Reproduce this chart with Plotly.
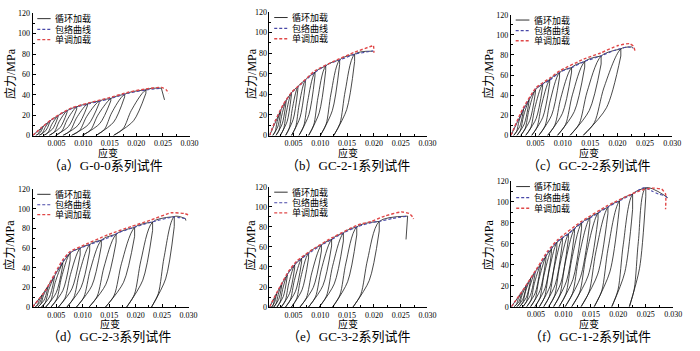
import plotly.graph_objects as go

# ---------------- DATA (strain, stress in MPa) ----------------
# Panel (a) G-0-0
A_P = [0.0025, 0.0038, 0.0053, 0.0070, 0.0088, 0.0108, 0.0130, 0.0152, 0.0178, 0.0218, 0.0247]
A_S = [9, 14.5, 19.5, 24.5, 28.2, 31, 33.8, 36.3, 40.5, 44.8, 46.5]
A_D = [9, 14, 18.5, 23, 26, 29, 31.5, 34, 38, 41.5]
A_R = [0.0011, 0.0017, 0.0026, 0.0036, 0.0048, 0.0062, 0.0078, 0.0098, 0.0124, 0.0157]
A_UM = [0.00197, 0.0030, 0.00427, 0.00571, 0.00728, 0.00905, 0.01102, 0.01315, 0.01575, 0.01948]
A_RT = [0.00152, 0.00233, 0.00341, 0.00462, 0.0060, 0.00758, 0.00936, 0.01142, 0.01402, 0.01753]
A_RM = [0.00187, 0.00286, 0.00409, 0.00547, 0.0070, 0.00873, 0.01066, 0.01277, 0.01537, 0.01906]
A_END = [0.0253, 35]
A_ENV_X = [0.0005, 0.0023, 0.0040, 0.0061, 0.0079, 0.0110, 0.0148, 0.0185, 0.0216, 0.0247]
A_ENV_Y = [0, 8, 15, 22, 26.5, 31, 35.8, 41.5, 44.5, 46.5]
A_MON_X = [0.0005, 0.0023, 0.0040, 0.0061, 0.0079, 0.0110, 0.0148, 0.0185, 0.0216, 0.0247, 0.0256, 0.0261]
A_MON_Y = [0, 8.3, 15.5, 22.5, 27.2, 32, 37, 42.5, 45.6, 47.3, 45, 41.5]

# Panel (b) GC-2-1
B_P = [0.0026, 0.0036, 0.0046, 0.0058, 0.0072, 0.0090, 0.0110, 0.0136, 0.0164, 0.0197]
B_S = [24.5, 34, 41.5, 47.5, 54, 61.5, 67.5, 73.5, 79, 82]
B_D = [23.5, 32.5, 39.5, 45, 50.5, 58, 63, 69, 72]
B_R = [0.0011, 0.0017, 0.0025, 0.0035, 0.0046, 0.0060, 0.0078, 0.0100, 0.0125]
B_UM = [0.00203, 0.00288, 0.0038, 0.00493, 0.00621, 0.00786, 0.00978, 0.01223, 0.01492]
B_RT = [0.00155, 0.00227, 0.00313, 0.00419, 0.00538, 0.0069, 0.00876, 0.01108, 0.01367]
B_RM = [0.00193, 0.00275, 0.00366, 0.00477, 0.00603, 0.00765, 0.00956, 0.01198, 0.01465]
B_END = [0.0198, 81.5]
B_ENV_X = [0.0005, 0.0016, 0.0031, 0.0047, 0.0062, 0.0090, 0.0115, 0.0139, 0.0164, 0.0195, 0.0199]
B_ENV_Y = [0, 14.2, 30, 42, 49, 61.6, 69.5, 74, 79, 82, 82.5]
B_MON_X = [0.0005, 0.0016, 0.0031, 0.0047, 0.0062, 0.0090, 0.0127, 0.0164, 0.0195, 0.0199, 0.0200]
B_MON_Y = [0, 14.5, 30.5, 42.5, 49.5, 63, 72.6, 81, 86.8, 87.5, 80.5]

# Panel (c) GC-2-2
C_P = [0.0028, 0.0038, 0.0050, 0.0063, 0.0076, 0.0094, 0.0116, 0.0140, 0.0170, 0.0206, 0.0226]
C_S = [26, 35, 45.5, 51, 55.5, 62.5, 67.5, 73.5, 79, 86, 88]
C_D = [25, 33, 43, 48, 52, 58, 63, 68, 71, 79]
C_R = [0.0010, 0.0016, 0.0023, 0.0032, 0.0043, 0.0056, 0.0072, 0.0090, 0.0113, 0.0137]
C_UM = [0.00212, 0.00296, 0.00397, 0.00512, 0.00635, 0.00796, 0.00993, 0.0121, 0.01483, 0.01798]
C_RT = [0.00154, 0.00226, 0.00311, 0.00413, 0.00529, 0.00674, 0.00852, 0.0105, 0.01301, 0.01577]
C_RM = [0.00199, 0.00281, 0.00379, 0.00491, 0.00612, 0.00769, 0.00962, 0.01175, 0.01444, 0.0175]
C_END = [0.0228, 87]
C_ENV_X = [0.0005, 0.0026, 0.0051, 0.0076, 0.0095, 0.0117, 0.0138, 0.0169, 0.0194, 0.0219, 0.0229]
C_ENV_Y = [0, 24, 46.8, 55, 63, 67.7, 73.2, 79, 84.5, 88, 87]
C_MON_X = [0.0005, 0.0026, 0.0051, 0.0076, 0.0095, 0.0138, 0.0169, 0.0201, 0.0222, 0.0229, 0.0232]
C_MON_Y = [0, 25.8, 47.4, 57, 64.5, 75.8, 82, 89.4, 91.3, 88.7, 84]

# Panel (d) GC-2-3
D_P = [0.0024, 0.0034, 0.0046, 0.0062, 0.0076, 0.0095, 0.0113, 0.0135, 0.0163, 0.0198, 0.0232, 0.0273, 0.0294]
D_S = [13, 21, 31, 45, 55, 60, 63.5, 68, 74, 81, 86.5, 92, 90]
D_D = [13, 20, 29, 42, 48, 53, 57, 62, 66, 72, 78, 82]
D_R = [0.0010, 0.0015, 0.0022, 0.0030, 0.0040, 0.0054, 0.0070, 0.0088, 0.0112, 0.0143, 0.0183, 0.0230]
D_UM = [0.00187, 0.00268, 0.00369, 0.00498, 0.00623, 0.00794, 0.00967, 0.01171, 0.01436, 0.01771, 0.02134, 0.02567]
D_RT = [0.00142, 0.00207, 0.00292, 0.00396, 0.00508, 0.00663, 0.00829, 0.01021, 0.01273, 0.01595, 0.01977, 0.02429]
D_RM = [0.00177, 0.00255, 0.00352, 0.00476, 0.00598, 0.00766, 0.00937, 0.01139, 0.01401, 0.01733, 0.021, 0.02537]
D_END = [0.0295, 88]
D_ENV_X = [0.0005, 0.0029, 0.0061, 0.0076, 0.0098, 0.0123, 0.0148, 0.0167, 0.0192, 0.0229, 0.0270, 0.0295]
D_ENV_Y = [0, 15.9, 45.6, 55.5, 60.5, 65.5, 70.4, 75.4, 80.3, 86.3, 91.5, 90]
D_MON_X = [0.0005, 0.0029, 0.0061, 0.0076, 0.0098, 0.0148, 0.0192, 0.0229, 0.0267, 0.0292, 0.0300]
D_MON_Y = [0, 16.5, 47.3, 56.5, 62, 73.7, 82, 88.6, 95.9, 95.2, 93.8]

# Panel (e) GC-3-2
E_P = [0.0018, 0.0028, 0.0038, 0.0052, 0.0065, 0.0078, 0.0102, 0.0121, 0.0143, 0.0168, 0.0210, 0.0263]
E_S = [13, 23, 32, 42, 48.5, 54, 62, 67.5, 74, 80, 85.5, 90.8]
E_D = [13, 22, 30, 39, 45, 49, 56, 61, 66, 72, 76]
E_R = [0.0009, 0.0013, 0.0019, 0.0027, 0.0035, 0.0046, 0.0062, 0.0078, 0.0098, 0.0123, 0.0161]
E_UM = [0.00146, 0.00223, 0.00308, 0.00425, 0.00536, 0.00658, 0.00868, 0.01047, 0.01259, 0.01509, 0.01914]
E_RT = [0.00117, 0.00175, 0.00247, 0.00345, 0.0044, 0.00556, 0.0074, 0.00909, 0.01115, 0.01365, 0.01757]
E_RM = [0.0014, 0.00213, 0.00295, 0.00408, 0.00515, 0.00636, 0.0084, 0.01017, 0.01228, 0.01478, 0.0188]
E_END = [0.0260, 67.5]
E_ENV_X = [0.0005, 0.0022, 0.0041, 0.0056, 0.0081, 0.0099, 0.0121, 0.0143, 0.0170, 0.0195, 0.0210, 0.0235, 0.0263]
E_ENV_Y = [0, 17.2, 35, 44.8, 54.5, 61, 67.5, 74, 80.4, 84.3, 85.5, 88.5, 90.8]
E_MON_X = [0.0005, 0.0022, 0.0041, 0.0056, 0.0081, 0.0121, 0.0170, 0.0195, 0.0220, 0.0251, 0.0266, 0.0272, 0.0274]
E_MON_Y = [0, 17.8, 36, 46, 56, 69, 82, 85.5, 90.8, 95, 93.4, 90.2, 88]

# Panel (f) GC-1-2
F_P = [0.0024, 0.0032, 0.0040, 0.0048, 0.0058, 0.0068, 0.0078, 0.0088, 0.0098, 0.0109, 0.0120, 0.0133,
       0.0148, 0.0163, 0.0181, 0.0202, 0.0226, 0.0250, 0.0285]
F_S = [14, 20, 27, 33, 40, 48, 55, 61.5, 65.5, 69.5, 74.5, 80, 85, 89.5, 95, 101, 107.5, 113.5, 106]
F_D = [13.5, 19, 25.5, 31, 37.5, 45, 51, 57, 61, 65, 70, 75, 80, 84, 89, 95, 93, 105]
F_R = [0.0010, 0.0015, 0.0020, 0.0026, 0.0033, 0.0040, 0.0048, 0.0056, 0.0064, 0.0073, 0.0082, 0.0092,
       0.0103, 0.0115, 0.0132, 0.0156, 0.0188, 0.0220]
F_UM = [0.00187, 0.00255, 0.00324, 0.00396, 0.00485, 0.00574, 0.00666, 0.00758, 0.00851, 0.00953, 0.01056,
        0.01174, 0.01309, 0.01448, 0.01624, 0.01845, 0.02116, 0.02386]
F_RT = [0.00142, 0.00201, 0.0026, 0.00326, 0.00405, 0.00484, 0.0057, 0.00656, 0.00742, 0.00838, 0.00934,
        0.01043, 0.01165, 0.01294, 0.01467, 0.01698, 0.01994, 0.0229]
F_RM = [0.00177, 0.00244, 0.0031, 0.00381, 0.00468, 0.00554, 0.00645, 0.00736, 0.00827, 0.00928, 0.01029,
        0.01146, 0.01278, 0.01414, 0.0159, 0.01813, 0.02089, 0.02365]
F_END = [0.0290, 104]
F_ENV_X = [0.0005, 0.0029, 0.0053, 0.0071, 0.0090, 0.0111, 0.0132, 0.0157, 0.0181, 0.0205, 0.0224, 0.0239,
           0.0248, 0.0260, 0.0273, 0.0285, 0.0291]
F_ENV_Y = [0, 17.7, 36.3, 51.8, 62.6, 70.4, 79.7, 87.4, 95.2, 102, 107, 112, 113.8, 110.7, 107.6, 106, 103]
F_MON_X = [0.0005, 0.0029, 0.0053, 0.0071, 0.0090, 0.0132, 0.0181, 0.0224, 0.0248, 0.0266, 0.0279, 0.0286, 0.0286]
F_MON_Y = [0, 18, 37.8, 53, 64.2, 81.2, 96.7, 107.6, 112.2, 113.2, 112.2, 107.6, 93]

TITLES = ["（a）G-0-0系列试件", "（b）GC-2-1系列试件", "（c）GC-2-2系列试件",
          "（d）GC-2-3系列试件", "（e）GC-3-2系列试件", "（f）GC-1-2系列试件"]
LEGEND_NAMES = ["循环加载", "包络曲线", "单调加载"]
X_TICKS = [0.005, 0.010, 0.015, 0.020, 0.025, 0.030]
X_TICK_TEXT = ["0.005", "0.010", "0.015", "0.020", "0.025", "0.030"]
Y_TICKS = [0, 20, 40, 60, 80, 100, 120]
X_TITLE = "应变"
Y_TITLE = "应力/MPa"
ORIGIN = 0.0005

PANELS = [
    (A_P, A_S, A_D, A_R, A_UM, A_RT, A_RM, A_END, A_ENV_X, A_ENV_Y, A_MON_X, A_MON_Y),
    (B_P, B_S, B_D, B_R, B_UM, B_RT, B_RM, B_END, B_ENV_X, B_ENV_Y, B_MON_X, B_MON_Y),
    (C_P, C_S, C_D, C_R, C_UM, C_RT, C_RM, C_END, C_ENV_X, C_ENV_Y, C_MON_X, C_MON_Y),
    (D_P, D_S, D_D, D_R, D_UM, D_RT, D_RM, D_END, D_ENV_X, D_ENV_Y, D_MON_X, D_MON_Y),
    (E_P, E_S, E_D, E_R, E_UM, E_RT, E_RM, E_END, E_ENV_X, E_ENV_Y, E_MON_X, E_MON_Y),
    (F_P, F_S, F_D, F_R, F_UM, F_RT, F_RM, F_END, F_ENV_X, F_ENV_Y, F_MON_X, F_MON_Y),
]

# ---------------- LAYOUT (pixel boxes of each plot area) ----------------
W, H = 700, 351
BOX = [(33, 192, 9.5, 135), (273, 433, 8.3, 135), (517.5, 681, 11, 135),
       (33, 191, 190, 311), (273, 433, 187.7, 311), (518, 682, 181.7, 310.7)]
YT_X = [10, 254, 495, 10, 254, 495]
XT_X = [109, 352.5, 597, 111.5, 352.5, 597]
TT_X = [107, 352.5, 597, 110.5, 354, 597.5]

BLACK = "#1a1a1a"
BLUE = "#4848a8"
RED = "#e04848"
SERIF = "Liberation Serif, Noto Sans CJK SC, serif"

fig = go.Figure()
layout = dict(width=W, height=H, margin=dict(l=0, r=0, t=0, b=0),
              paper_bgcolor="white", plot_bgcolor="white", showlegend=False)
annotations = []
shapes = []

for k, (P, S, D, R, UM, RT, RM, END, EX, EY, MX, MY) in enumerate(PANELS):
    n = k + 1
    xa = "x" if n == 1 else f"x{n}"
    ya = "y" if n == 1 else f"y{n}"
    x0, x1, top, bot = BOX[k]

    # cyclic loading path: spline branches and straight drops
    sx, sy, lx, ly = [], [], [], []
    lx += [ORIGIN, P[0], None]
    ly += [0, S[0], None]
    for i in range(len(R)):
        lx += [P[i], P[i], None]
        ly += [S[i], D[i], None]
        sx += [P[i], UM[i], R[i], None]
        sy += [D[i], 0.35 * D[i], 0, None]
        sx += [R[i], RT[i], RM[i], P[i], P[i + 1], None]
        sy += [0, 0.15 * S[i], 0.55 * S[i], S[i], S[i + 1], None]
    lx += [P[-1], END[0], None]
    ly += [S[-1], END[1], None]

    fig.add_trace(go.Scatter(x=sx, y=sy, mode="lines", xaxis=xa, yaxis=ya,
                             line=dict(color=BLACK, width=0.8, shape="spline", smoothing=0.8),
                             connectgaps=False, hoverinfo="skip"))
    fig.add_trace(go.Scatter(x=lx, y=ly, mode="lines", xaxis=xa, yaxis=ya,
                             line=dict(color=BLACK, width=0.8), connectgaps=False, hoverinfo="skip"))
    fig.add_trace(go.Scatter(x=EX, y=EY, mode="lines", xaxis=xa, yaxis=ya,
                             line=dict(color=BLUE, width=1.1, dash="3px,2px", shape="spline", smoothing=0.6)))
    fig.add_trace(go.Scatter(x=MX, y=MY, mode="lines", xaxis=xa, yaxis=ya,
                             line=dict(color=RED, width=1.4, dash="3px,2px", shape="spline", smoothing=0.5)))

    common = dict(showline=True, linecolor="black", linewidth=1, mirror=False,
                  ticks="inside", ticklen=3, tickwidth=1, tickcolor="black",
                  showgrid=False, zeroline=False,
                  tickfont=dict(family=SERIF, size=8, color="black"))
    layout["xaxis" if n == 1 else f"xaxis{n}"] = dict(
        domain=[x0 / W, x1 / W], range=[ORIGIN, 0.030], anchor=ya,
        tickvals=X_TICKS, ticktext=X_TICK_TEXT,
        minor=dict(ticks="inside", ticklen=2, dtick=0.0025, tick0=0, tickcolor="black"),
        **common)
    layout["yaxis" if n == 1 else f"yaxis{n}"] = dict(
        domain=[1 - bot / H, 1 - top / H], range=[0, 120], anchor=xa,
        tickvals=Y_TICKS,
        minor=dict(ticks="inside", ticklen=2, dtick=10, tickcolor="black"),
        **common)

    row1 = k < 3
    annotations.append(dict(text=Y_TITLE, x=YT_X[k] / W, y=1 - (71 if row1 else 247) / H,
                            xref="paper", yref="paper", textangle=-90, showarrow=False,
                            xanchor="center", yanchor="middle",
                            font=dict(family=SERIF, size=12, color="black")))
    annotations.append(dict(text=X_TITLE, x=XT_X[k] / W, y=1 - (152.5 if row1 else 328) / H,
                            xref="paper", yref="paper", showarrow=False,
                            xanchor="center", yanchor="middle",
                            font=dict(family=SERIF, size=10, color="black")))
    annotations.append(dict(text=TITLES[k], x=TT_X[k] / W, y=1 - (165.5 if row1 else 341) / H,
                            xref="paper", yref="paper", showarrow=False,
                            xanchor="center", yanchor="middle",
                            font=dict(family=SERIF, size=13, color="black")))

    # legend drawn inside each panel
    rows = [0.956, 0.868, 0.784]
    styles = [(BLACK, 0.9, "solid"), (BLUE, 1.1, "3px,2px"), (RED, 1.4, "3px,2px")]
    for j in range(3):
        c, w, d = styles[j]
        shapes.append(dict(type="line", xref=f"{xa} domain", yref=f"{ya} domain",
                           x0=0.03, x1=0.115, y0=rows[j], y1=rows[j],
                           line=dict(color=c, width=w, dash=d)))
        annotations.append(dict(text=LEGEND_NAMES[j], xref=f"{xa} domain", yref=f"{ya} domain",
                                x=0.13, y=rows[j], xanchor="left", yanchor="middle", showarrow=False,
                                font=dict(family=SERIF, size=9, color="black")))

layout["annotations"] = annotations
layout["shapes"] = shapes
fig.update_layout(**layout)
fig.write_html("out.html")
